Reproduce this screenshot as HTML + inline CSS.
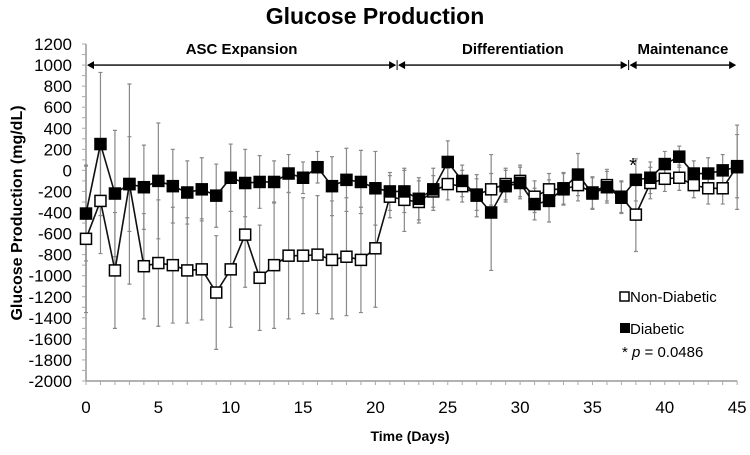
<!DOCTYPE html>
<html><head><meta charset="utf-8"><style>
body{margin:0;background:#fff;font-family:"Liberation Sans",Arial,sans-serif}
</style></head><body>
<svg id="chart" width="750" height="450" xmlns="http://www.w3.org/2000/svg" font-family="Liberation Sans, Arial, sans-serif">
<text x="375" y="24" text-anchor="middle" font-size="23" font-weight="bold">Glucose Production</text>
<text transform="translate(22,213) rotate(-90)" text-anchor="middle" font-size="16" font-weight="bold">Glucose Production (mg/dL)</text>
<text x="410" y="441" text-anchor="middle" font-size="14" font-weight="bold">Time (Days)</text>
<g id="axes"></g>
<g id="phases"></g>
<g id="errors"></g>
<g id="lines"></g>
<g id="marks"></g>
<g>
<rect x="620" y="292" width="9" height="9" fill="#fff" stroke="#000" stroke-width="1.5"/>
<text x="630" y="302" font-size="15">Non-Diabetic</text>
<rect x="620" y="323" width="10" height="10" fill="#000"/>
<text x="630" y="334" font-size="15">Diabetic</text>
<text x="622" y="357" font-size="15">* <tspan font-style="italic">p</tspan> = 0.0486</text>
</g>
<text x="633" y="172" text-anchor="middle" font-size="20">*</text>
</svg>
<script>
const days=[0,1,2,3,4,5,6,7,8,9,10,11,12,13,14,15,16,17,18,19,20,21,22,23,24,25,26,27,28,29,30,31,32,33,34,35,36,37,38,39,40,41,42,43,44,45];
const nonDiabetic=[-650,-290,-950,-130,-910,-880,-900,-950,-940,-1160,-940,-610,-1020,-900,-810,-810,-800,-850,-820,-850,-740,-250,-280,-300,-200,-130,-150,-230,-180,-130,-100,-250,-180,-180,-140,-210,-140,-250,-420,-120,-80,-70,-140,-170,-170,40];
const nonDiabeticErr=[700,500,550,450,500,600,550,500,480,540,550,500,500,600,600,550,560,560,560,500,560,200,300,200,150,150,150,150,150,150,150,150,150,150,150,150,150,150,350,150,120,120,120,150,150,300];
const diabetic=[-410,250,-220,-130,-160,-100,-150,-210,-180,-240,-70,-120,-110,-110,-30,-70,30,-150,-90,-110,-170,-200,-200,-270,-180,80,-100,-240,-400,-150,-120,-320,-290,-170,-40,-220,-160,-260,-90,-70,60,130,-30,-30,0,30];
const diabeticErr=[450,680,600,950,400,550,350,300,300,300,320,320,250,200,180,150,150,280,300,300,350,180,200,200,200,200,150,200,550,150,150,150,200,150,200,150,150,150,200,150,120,100,120,150,150,400];
const yTicks=[1200,1000,800,600,400,200,0,-200,-400,-600,-800,-1000,-1200,-1400,-1600,-1800,-2000];
const xTicks=[0,5,10,15,20,25,30,35,40,45];
const phaseLabels=["ASC Expansion","Differentiation","Maintenance"];
const phaseBounds=[0,21.5,37.5,45];
const NS="http://www.w3.org/2000/svg";
const X=d=>86+d*14.47;
const Y=v=>381-(v+2000)*337/3200;
function mk(tag,attrs,parent){const e=document.createElementNS(NS,tag);for(const k in attrs)e.setAttribute(k,attrs[k]);document.getElementById(parent).appendChild(e);return e;}
let a=mk('line',{x1:86,y1:Y(1200),x2:86,y2:381,stroke:'#999','stroke-width':1.5},'axes');


a=mk('line',{x1:86,y1:381,x2:X(45),y2:381,stroke:'#999','stroke-width':1.5},'axes');


for(let v=-2000;v<=1200;v+=100){mk('line',{x1:82,x2:86,y1:Y(v),y2:Y(v),stroke:'#aaa'},'axes');}
for(let d=0;d<=45;d++){mk('line',{x1:X(d),x2:X(d),y1:381,y2:385,stroke:'#aaa'},'axes');}
yTicks.forEach(v=>{const t=mk('text',{x:72,y:Y(v)+6,'text-anchor':'end','font-size':17},'axes');t.textContent=v;

});
xTicks.forEach(v=>{const t=mk('text',{x:X(v),y:413,'text-anchor':'middle','font-size':17},'axes');t.textContent=v;

});
const ay=Y(1000);
phaseLabels.forEach((lab,i)=>{const x1=X(phaseBounds[i]),x2=X(phaseBounds[i+1]);
const l=mk('line',{x1:x1+2,x2:x2-2,y1:ay,y2:ay,stroke:'#000','stroke-width':1.3},'phases');


mk('path',{d:`M${x1+1},${ay} l7,-4 v8 z M${x2-1},${ay} l-7,-4 v8 z`,fill:'#000'},'phases');
if(i>0)mk('line',{x1:x1,x2:x1,y1:ay-5,y2:ay+5,stroke:'#000'},'phases');
const t=mk('text',{x:(x1+x2)/2,y:ay-11,'text-anchor':'middle','font-size':15,'font-weight':'bold'},'phases');t.textContent=lab;

});
function series(vals,errs,name,fill){
 vals.forEach((v,i)=>{const x=X(days[i]);
  const e=mk('path',{d:`M${x},${Y(v-errs[i])}V${Y(v+errs[i])}M${x-2},${Y(v-errs[i])}h4M${x-2},${Y(v+errs[i])}h4`,stroke:'#888','stroke-width':1.2,fill:'none'},'errors');
  
  });
 const l=mk('polyline',{points:vals.map((v,i)=>X(days[i])+','+Y(v)).join(' '),fill:'none',stroke:'#111','stroke-width':1.6},'lines');
 
 
 vals.forEach((v,i)=>{const r=mk('rect',{x:X(days[i])-5.5,y:Y(v)-5.5,width:11,height:11,fill:fill,stroke:'#000','stroke-width':1.5},'marks');
  
  });
}
series(nonDiabetic,nonDiabeticErr,'non-diabetic','#fff');
series(diabetic,diabeticErr,'diabetic','#000');
</script>
</body></html>
